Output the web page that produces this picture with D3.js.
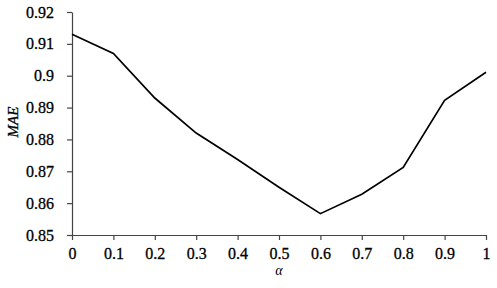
<!DOCTYPE html>
<meta charset="utf-8">
<html>
<head>
<script src="https://d3js.org/d3.v7.min.js"></script>
<style>
  body { margin: 0; background: #fff; }
</style>
</head>
<body>
<div id="chart"></div>
<script>
  // alpha values and MAE
  const alphas = [0, 0.1, 0.2, 0.3, 0.4, 0.5, 0.6, 0.7, 0.8, 0.9, 1];
  const mae = [0.9130, 0.9070, 0.8930, 0.8820, 0.8737, 0.8650, 0.8567, 0.8628, 0.8712, 0.8923, 0.9011];
  const xTicks = [0, 0.1, 0.2, 0.3, 0.4, 0.5, 0.6, 0.7, 0.8, 0.9, 1];
  const yTicks = [0.85, 0.86, 0.87, 0.88, 0.89, 0.9, 0.91, 0.92];

  const W = 497, H = 288;
  const margin = {top: 12, right: 11, bottom: 53, left: 72};
  const serif = "'Liberation Serif', 'Times New Roman', serif";

  const svg = d3.select("#chart").append("svg")
    .attr("width", W).attr("height", H);

  const x = d3.scaleLinear().domain([0, 1]).range([margin.left, W - margin.right]);
  const y = d3.scaleLinear().domain([0.85, 0.92]).range([H - margin.bottom, margin.top]);

  // x axis
  svg.append("g")
    .attr("transform", `translate(0,${H - margin.bottom})`)
    .call(d3.axisBottom(x).tickValues(xTicks).tickSize(5).tickSizeOuter(0).tickPadding(8)
      .tickFormat(d => String(d)));
  // y axis
  svg.append("g")
    .attr("transform", `translate(${margin.left},0)`)
    .call(d3.axisLeft(y).tickValues(yTicks).tickSize(5).tickSizeOuter(0).tickPadding(13)
      .tickFormat(d => String(+d.toFixed(2))));

  svg.selectAll(".domain, .tick line").attr("stroke", "#444").attr("stroke-width", 1.2);
  svg.selectAll(".tick text")
    .attr("font-size", 16).attr("font-family", serif).attr("fill", "#000")
    .attr("stroke", "#000").attr("stroke-width", 0.3);

  // line
  const line = d3.line().x((d, i) => x(alphas[i])).y(d => y(d));
  svg.append("path")
    .datum(mae)
    .attr("fill", "none")
    .attr("stroke", "#000")
    .attr("stroke-width", 1.7)
    .attr("d", line);

  // axis titles
  svg.append("text")
    .attr("x", x(0.5)).attr("y", 275)
    .attr("text-anchor", "middle")
    .attr("font-family", serif)
    .attr("font-size", 14).attr("font-style", "italic")
    .text("α");

  svg.append("text")
    .attr("transform", `translate(18,122) rotate(-90)`)
    .attr("text-anchor", "middle")
    .attr("font-family", serif)
    .attr("font-size", 15).attr("font-style", "italic")
    .attr("stroke", "#000").attr("stroke-width", 0.3)
    .text("MAE");
</script>
</body>
</html>
